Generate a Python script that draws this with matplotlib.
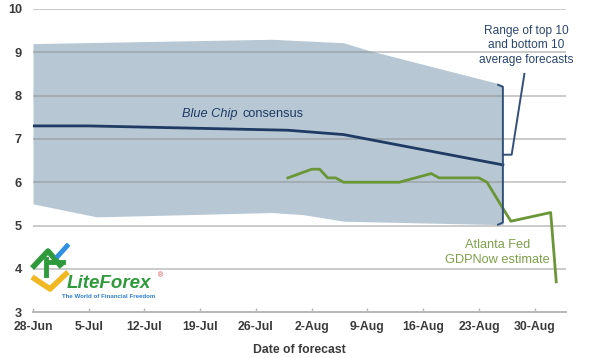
import matplotlib
matplotlib.use("Agg")
import matplotlib.pyplot as plt
import numpy as np

plt.rcParams["font.family"] = ["Liberation Sans", "DejaVu Sans"]

# days counted from 28-Jun
TICK_DAYS = [0, 7, 14, 21, 28, 35, 42, 49, 56, 63]
TICK_LABELS = ["28-Jun", "5-Jul", "12-Jul", "19-Jul", "26-Jul",
               "2-Aug", "9-Aug", "16-Aug", "23-Aug", "30-Aug"]

# range of top 10 / bottom 10 average forecasts
BAND_TOP_DAYS = [0, 30, 39, 42, 59]
BAND_TOP = [9.2, 9.3, 9.22, 9.05, 8.25]
BAND_BOT_DAYS = [0, 8, 30, 34, 39, 59]
BAND_BOT = [5.5, 5.2, 5.3, 5.25, 5.1, 5.02]

# Blue Chip consensus
BC_DAYS = [0, 7, 32, 39, 59]
BC_VALS = [7.3, 7.3, 7.2, 7.1, 6.4]

# Atlanta Fed GDPNow
GDP_DAYS = [32, 35, 36, 37, 38, 39, 46, 50, 51, 56, 57, 60, 65, 65.7]
GDP_VALS = [6.1, 6.3, 6.3, 6.1, 6.1, 6.0, 6.0, 6.2, 6.1, 6.1, 6.0, 5.1, 5.3, 3.7]

NAVY = "#1f3a63"
GREEN = "#6a9637"
TEXTGREEN = "#7ea04a"
BAND = "#b7c8d4"
TICKC = "#3a3a3a"

fig = plt.figure(figsize=(6, 3.58), dpi=100)
ax = fig.add_axes([0.055, 0.128, 0.888, 0.847])

# band: combine both edges on a shared day grid
grid_days = sorted(set(BAND_TOP_DAYS) | set(BAND_BOT_DAYS))
top_i = np.interp(grid_days, BAND_TOP_DAYS, BAND_TOP)
bot_i = np.interp(grid_days, BAND_BOT_DAYS, BAND_BOT)
ax.fill_between(grid_days, bot_i, top_i, color=BAND, lw=0, zorder=1)

# horizontal grid drawn over the band
for v in range(4, 11):
    ax.axhline(v, color="#8a8a8a", alpha=0.45, lw=1.4, zorder=2)

ax.plot(BC_DAYS, BC_VALS, color=NAVY, lw=2, zorder=4)
ax.plot(GDP_DAYS, GDP_VALS, color=GREEN, lw=2, zorder=4)

# bracket at the end of the band
bx = BAND_TOP_DAYS[-1]
btop, bbot = BAND_TOP[-1], BAND_BOT[-1]
bmid = (btop + bbot) / 2
bc = "#34507a"
ax.plot([bx - 0.6, bx, bx, bx - 0.6], [btop, btop - 0.05, bbot + 0.05, bbot],
        color=bc, lw=1.4, zorder=5)
ax.plot([bx, bx + 1.1, bx + 2.7], [bmid, bmid, 8.5], color=bc, lw=1.4, zorder=5)

ax.text(61.9, 9.16, "Range of top 10\nand bottom 10\naverage forecasts",
        ha="center", va="center", fontsize=8.6, color="#2a4670", linespacing=1.3)
ax.text(18.7, 7.58, "Blue Chip", style="italic", fontsize=9.2, color=NAVY,
        ha="left", va="center")
ax.text(26.35, 7.58, "consensus", fontsize=9.2, color=NAVY, ha="left", va="center")
ax.text(58.3, 4.37, "Atlanta Fed\nGDPNow estimate", ha="center", va="center",
        fontsize=9.2, color=TEXTGREEN, linespacing=1.3)

ax.set_xlim(0, 66.9)
ax.set_ylim(3, 10)
ax.set_yticks(range(3, 11))
ax.set_xticks(TICK_DAYS)
ax.set_xticklabels(TICK_LABELS, fontweight="bold")
ax.set_yticklabels([str(v) for v in range(3, 11)], fontweight="bold")
for s in ["top", "right", "left"]:
    ax.spines[s].set_visible(False)
ax.spines["bottom"].set_color("#b8b8b8")
ax.spines["bottom"].set_linewidth(1.4)
ax.tick_params(axis="y", length=0, pad=8, labelsize=9.2, labelcolor=TICKC)
ax.tick_params(axis="x", length=3, width=1, color="#b8b8b8", direction="in", pad=6,
               labelsize=8.8, labelcolor=TICKC)
ax.set_xlabel("Date of forecast", fontsize=8.8, fontweight="bold", color=TICKC,
              labelpad=8)

# LiteForex watermark
fig.lines += [
    plt.Line2D([32 / 600, 50 / 600, 68 / 600], [1 - 277 / 358, 1 - 289 / 358, 1 - 272 / 358],
               color="#f2b824", lw=4, transform=fig.transFigure, solid_capstyle="butt"),
    plt.Line2D([34 / 600, 48 / 600, 60 / 600], [1 - 266 / 358, 1 - 251 / 358, 1 - 265 / 358],
               color="#2e9a3c", lw=4, transform=fig.transFigure),
    plt.Line2D([46 / 600, 46 / 600], [1 - 275 / 358, 1 - 259 / 358],
               color="#2e9a3c", lw=3.5, transform=fig.transFigure),
    plt.Line2D([47 / 600, 63 / 600], [1 - 262 / 358, 1 - 262 / 358],
               color="#2e9a3c", lw=3.5, transform=fig.transFigure),
    plt.Line2D([58 / 600, 67 / 600], [1 - 256 / 358, 1 - 246 / 358],
               color="#2f8fe0", lw=3.5, transform=fig.transFigure),
]
fig.text(67 / 600, 1 - 283 / 358, "LiteForex", fontsize=13.5, fontweight="bold",
         style="italic", color="#2e9a3c", ha="left", va="center")
fig.text(158 / 600, 1 - 276 / 358, "®", fontsize=5, color="#e03a3a", ha="left", va="center")
fig.text(62 / 600, 1 - 297 / 358, "The World of Financial Freedom", fontsize=4.4,
         fontweight="bold", color="#2f7fd0", ha="left", va="center")

fig.savefig("out.png", dpi=100)
